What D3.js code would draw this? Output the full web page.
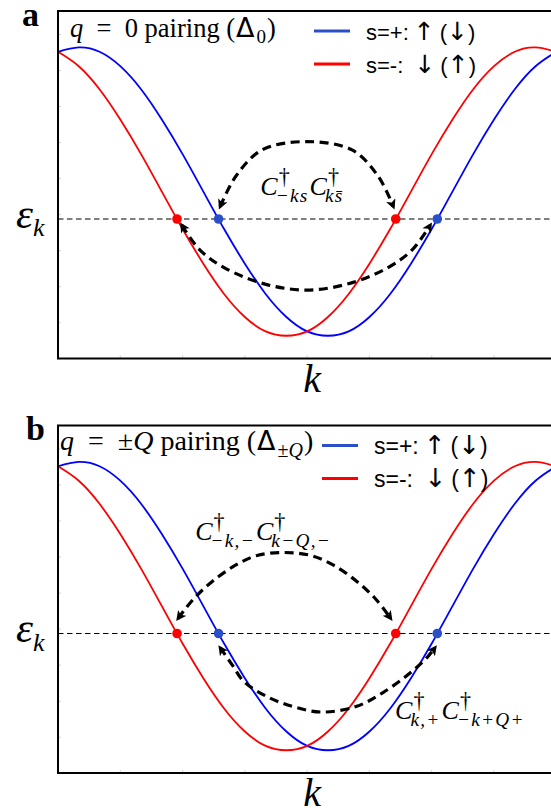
<!DOCTYPE html>
<html>
<head>
<meta charset="utf-8">
<script src="https://cdn.jsdelivr.net/npm/d3@7"></script>
<style>
  html, body { margin: 0; padding: 0; background: #fff; }
  svg { display: block; }
  text { font-family: "Liberation Serif", "Times New Roman", serif; fill: #000; }
  .it { font-style: italic; }
  .sans { font-family: "DejaVu Sans", sans-serif; }
  .legend text { font-family: "Liberation Sans", Arial, sans-serif; }
</style>
</head>
<body>
<svg id="chart" width="551" height="808"></svg>
<script>
// k in degrees, band energy in units of the hopping
var kSamples = [-180, -165, -150, -135, -120, -105, -90, -75, -60, -45, -30, -15, 0,
                15, 30, 45, 60, 75, 90, 105, 120, 135, 150, 165, 180];
var bandPlus  = [0.97, 1.00, 0.97, 0.87, 0.71, 0.50, 0.26, 0.00, -0.26, -0.50, -0.71, -0.87, -0.97,
                 -1.00, -0.97, -0.87, -0.71, -0.50, -0.26, 0.00, 0.26, 0.50, 0.71, 0.87, 0.97];
var bandMinus = [0.97, 0.87, 0.71, 0.50, 0.26, 0.00, -0.26, -0.50, -0.71, -0.87, -0.97, -1.00, -0.97,
                 -0.87, -0.71, -0.50, -0.26, 0.00, 0.26, 0.50, 0.71, 0.87, 0.97, 1.00, 0.97];
var fermiLevel = -0.19;
var crossPlus  = [-64, 94];
var crossMinus = [-94, 64];

var xTicks = [-135, -90, -45, 0, 45, 90, 135];
var yTicks = [-0.91, -0.66, -0.41, -0.16, 0.09, 0.34, 0.59, 0.84, 1.09];

// pairing arrows (k, energy)
var arcA1 = [[-62.9, -0.105], [-51.4, 0.108], [-32.6, 0.289], [-0.1, 0.347], [32.4, 0.289], [51.2, 0.108], [62.3, -0.105]];
var arcA2 = [[-90.6, -0.232], [-77.4, -0.406], [-59.3, -0.531], [-30.4, -0.642], [-0.8, -0.683],
             [28.8, -0.642], [57.7, -0.531], [75.7, -0.406], [89.0, -0.232]];
var arcB1 = [[-93.3, -0.086], [-82.4, 0.046], [-69.4, 0.164], [-52.1, 0.282], [-36.2, 0.351], [-16.7, 0.372],
             [2.8, 0.351], [19.4, 0.282], [36.8, 0.164], [49.8, 0.046], [60.4, -0.086]];
var arcB2 = [[-62.9, -0.288], [-54.3, -0.406], [-45.6, -0.524], [-29.0, -0.628], [-10.2, -0.697], [10.0, -0.735],
             [35.3, -0.697], [54.8, -0.600], [75.7, -0.454], [87.2, -0.350], [92.4, -0.288]];

var legendLabels = [["s=+:", "\u2191", "(", "\u2193", ")"], ["s=-:\u00a0", "\u2193", "(", "\u2191", ")"]];
var bandColors = ["#0000ff", "#ff0000"];
var dotColors = ["#2a4fc8", "#ff0000"];

var W = 551, H = 808;
var frameL = 58, frameR = 556.3, panelH = 347.5;

var svg = d3.select("#chart");

var defs = svg.append("defs");
defs.append("marker")
  .attr("id", "arrow")
  .attr("viewBox", "0 0 10 10")
  .attr("refX", 7)
  .attr("refY", 5)
  .attr("markerUnits", "userSpaceOnUse")
  .attr("markerWidth", 12)
  .attr("markerHeight", 10)
  .attr("orient", "auto-start-reverse")
  .append("path")
  .attr("d", "M0,0 L10,5 L0,10 L2.5,5 z")
  .attr("fill", "#000");

var x = d3.scaleLinear().domain([-180, 180]).range([frameL, frameR]);
var y = d3.scaleLinear().domain([-1.158, 1.253]).range([panelH, 0]);

var bandLine = d3.line()
  .x(function (d) { return x(d[0]); })
  .y(function (d) { return y(d[1]); })
  .curve(d3.curveNatural);

var arcLine = d3.line()
  .x(function (d) { return x(d[0]); })
  .y(function (d) { return y(d[1]); })
  .curve(d3.curveCatmullRom.alpha(0.5));

// C^dagger_sub operators, drawn one after the other
function drawOps(g, x0, y0, subs, size) {
  var cx = x0;
  subs.forEach(function (sub) {
    var c = g.append("text").attr("class", "it")
      .attr("x", cx).attr("y", y0)
      .style("font-size", size + "px").text("C");
    var w = c.node().getComputedTextLength();
    var dag = g.append("text")
      .attr("x", cx + w + 1).attr("y", y0 - size * 0.42)
      .style("font-size", (size * 0.85) + "px").text("\u2020");
    var s = g.append("text").attr("class", "it")
      .attr("x", cx + w - 2).attr("y", y0 + size * 0.28)
      .style("font-size", (size * 0.74) + "px")
      .style("letter-spacing", "1.3px")
      .text(sub);
    cx += w - 2 + Math.max(s.node().getComputedTextLength(), dag.node().getComputedTextLength() + 3) + 1;
  });
}

function drawPanel(p) {
  var g = svg.append("g").attr("transform", "translate(0," + p.top + ")");

  // ticks
  g.selectAll(".xt").data(xTicks).enter().append("line")
    .attr("x1", function (d) { return x(d); }).attr("x2", function (d) { return x(d); })
    .attr("y1", panelH).attr("y2", panelH - 3)
    .attr("stroke", "#cfcfcf").attr("stroke-width", 1);
  g.selectAll(".yt").data(yTicks).enter().append("line")
    .attr("x1", frameL).attr("x2", frameL + 3)
    .attr("y1", function (d) { return y(d); }).attr("y2", function (d) { return y(d); })
    .attr("stroke", "#cfcfcf").attr("stroke-width", 1);

  // bands
  [bandPlus, bandMinus].forEach(function (band, i) {
    g.append("path")
      .datum(kSamples.map(function (k, j) { return [k, band[j]]; }))
      .attr("d", bandLine)
      .attr("fill", "none")
      .attr("stroke", bandColors[i])
      .attr("stroke-width", 1.8);
  });

  // Fermi level
  g.append("line")
    .attr("x1", frameL).attr("x2", W)
    .attr("y1", y(fermiLevel)).attr("y2", y(fermiLevel))
    .attr("stroke", "#000").attr("stroke-width", 1.1)
    .attr("stroke-dasharray", "5.5,3.5");

  // pairing arrows
  p.arcs.forEach(function (arc) {
    g.append("path")
      .datum(arc)
      .attr("d", arcLine)
      .attr("fill", "none")
      .attr("stroke", "#000")
      .attr("stroke-width", 3.2)
      .attr("stroke-dasharray", "9,5.5")
      .attr("marker-start", "url(#arrow)")
      .attr("marker-end", "url(#arrow)");
  });

  // Fermi crossings
  [crossPlus, crossMinus].forEach(function (ks, i) {
    g.selectAll(null).data(ks).enter().append("circle")
      .attr("cx", function (d) { return x(d); })
      .attr("cy", y(fermiLevel))
      .attr("r", 4.8)
      .attr("fill", dotColors[i]);
  });

  // frame
  g.append("rect")
    .attr("x", frameL).attr("y", 0)
    .attr("width", frameR - frameL).attr("height", panelH)
    .attr("fill", "none").attr("stroke", "#000").attr("stroke-width", 2);

  // axis labels
  var ek = g.append("text").attr("class", "it")
    .attr("x", 16).attr("y", y(fermiLevel) + 9)
    .style("font-size", "43px");
  ek.append("tspan").text("\u03b5");
  ek.append("tspan").attr("dy", 8.5).style("font-size", "26px").text("k");

  g.append("text").attr("class", "it")
    .attr("x", x(0) + 5).attr("y", panelH + 33)
    .attr("text-anchor", "middle")
    .style("font-size", "40px").text("k");

  // panel letter
  g.append("text")
    .attr("x", p.letterX).attr("y", 14.5)
    .style("font-size", "34px").style("font-weight", "bold")
    .text(p.letter);

  // title
  var t = g.append("text").attr("x", p.titleX).attr("y", p.titleY).style("font-size", p.titleSize + "px");
  p.title(t);

  // legend
  var lg = g.append("g").attr("class", "legend");
  legendLabels.forEach(function (lab, i) {
    lg.append("line")
      .attr("x1", p.legendX).attr("x2", p.legendX + 36)
      .attr("y1", 20 + i * 33).attr("y2", 20 + i * 33)
      .attr("stroke", dotColors[i]).attr("stroke-width", 3);
    var lt = lg.append("text")
      .attr("x", p.legendX + 52).attr("y", 28.5 + i * 33)
      .style("font-size", p.legendSize + "px");
    lt.append("tspan").text(lab[0]);
    lt.append("tspan").attr("class", "sans").attr("dx", 5).style("font-size", (p.legendSize + 3) + "px").text(lab[1]);
    lt.append("tspan").attr("dx", 5).text(lab[2]);
    lt.append("tspan").attr("class", "sans").style("font-size", (p.legendSize + 3) + "px").text(lab[3]);
    lt.append("tspan").text(lab[4]);
  });

  // operator labels
  p.ops.forEach(function (o) {
    drawOps(g, x(o.k), y(o.e), o.subs, 26);
  });
}

drawPanel({
  top: 11, letter: "a", letterX: 22, titleX: 70, titleY: 26, titleSize: 26.5,
  legendX: 314, legendSize: 22,
  arcs: [arcA1, arcA2],
  title: function (t) {
    t.append("tspan").attr("class", "it").text("q");
    t.append("tspan").text("\u2002=\u20020 pairing (");
    t.append("tspan").attr("class", "sans").attr("dx", 1).style("font-size", "27px").text("\u0394");
    t.append("tspan").attr("dx", 2).attr("dy", 6).style("font-size", "19px").text("0");
    t.append("tspan").attr("dx", 1).attr("dy", -6).text(")");
  },
  ops: [{ k: -33.8, e: -0.024, subs: ["\u2212ks", "ks\u0304"] }]
});

drawPanel({
  top: 425.5, letter: "b", letterX: 26, titleX: 60, titleY: 24.5, titleSize: 28,
  legendX: 322, legendSize: 23,
  arcs: [arcB1, arcB2],
  title: function (t) {
    t.append("tspan").attr("class", "it").text("q");
    t.append("tspan").text("\u2002=\u2002\u00b1");
    t.append("tspan").attr("class", "it").text("Q");
    t.append("tspan").text(" pairing (");
    t.append("tspan").attr("class", "sans").attr("dx", 1).style("font-size", "27px").text("\u0394");
    t.append("tspan").attr("dx", 2).attr("dy", 7).style("font-size", "20px").text("\u00b1");
    t.append("tspan").attr("class", "it").style("font-size", "20px").text("Q");
    t.append("tspan").attr("dx", 1).attr("dy", -7).text(")");
  },
  ops: [
    { k: -80.9, e: 0.458, subs: ["\u2212k,\u2212", "k\u2212Q,\u2212"] },
    { k: 63.5, e: -0.783, subs: ["k,+", "\u2212k+Q+"] }
  ]
});
</script>
</body>
</html>
